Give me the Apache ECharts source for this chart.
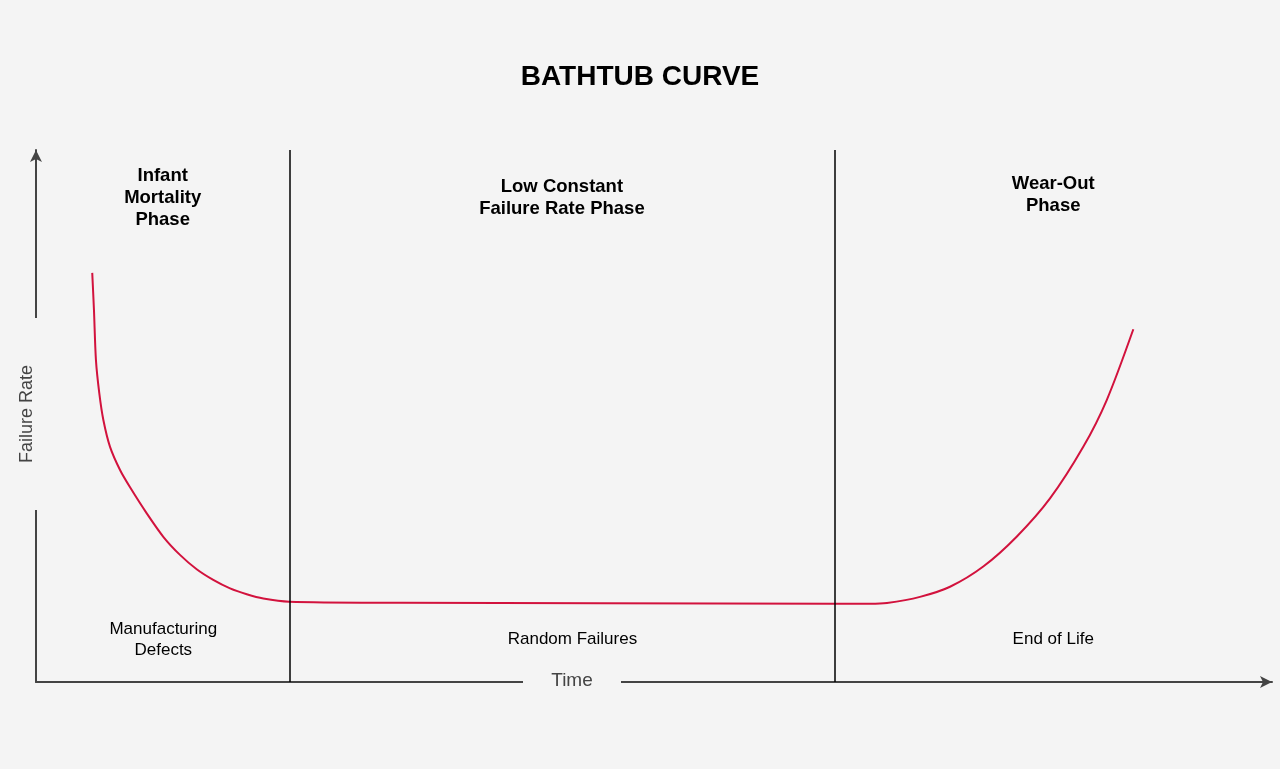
<!DOCTYPE html>
<html>
<head>
<meta charset="utf-8">
<script src="https://cdn.jsdelivr.net/npm/echarts@6/dist/echarts.min.js"></script>
<style>
  html, body { margin: 0; padding: 0; background: #f4f4f4; }
  #chart { width: 1280px; height: 769px; }
</style>
</head>
<body>
<div id="chart"></div>
<script>
// curve: time (0-100) vs failure rate (0-100)
const curveTime = [4.55, 4.69, 4.85, 5.12, 5.45, 5.99, 6.80, 7.61, 8.96, 10.30, 11.65, 13.00, 14.34, 15.70, 17.05, 18.39, 20.49,
  29.45, 45.63, 64.64, 67.48, 68.85, 71.52, 73.95, 76.64, 79.34, 82.04, 84.73, 86.63, 88.78];
const curveRate = [76.9, 69.9, 60.5, 54.3, 49.25, 44.2, 39.85, 36.6, 31.7, 27.3, 23.9, 21.2, 19.2, 17.6, 16.5, 15.7, 15.1,
  14.9, 14.8, 14.7, 14.7, 14.85, 16.0, 17.9, 21.7, 27.3, 34.5, 44.2, 53.0, 66.3];

// phase boundaries on the time axis
const phaseEdges = [0, 20.5, 64.6, 100];
const phaseTitles = ['Infant\nMortality\nPhase', 'Low Constant\nFailure Rate Phase', 'Wear-Out\nPhase'];
const phaseNotes = ['Manufacturing\nDefects', 'Random Failures', 'End of Life'];
const titleRate = [90.95, 90.95, 91.5];
const noteTime = [10.3, 43.4, 82.3];
const noteRate = [8.0, 8.0, 8.0];

const chart = echarts.init(document.getElementById('chart'));

const mids = phaseTitles.map((t, i) => (phaseEdges[i] + phaseEdges[i + 1]) / 2);

chart.setOption({
  backgroundColor: '#f4f4f4',
  animation: false,
  title: {
    text: 'BATHTUB CURVE',
    left: 'center',
    top: 58,
    textStyle: { fontFamily: 'Liberation Sans, Arial', fontSize: 28, fontWeight: 'bold', color: '#000' }
  },
  grid: { left: 36, right: 8, top: 150, bottom: 87 },
  xAxis: {
    type: 'value', min: 0, max: 100,
    axisLine: { lineStyle: { color: '#444', width: 2 }, symbol: ['none', 'arrow'], symbolSize: [9, 12] },
    axisTick: { show: false }, axisLabel: { show: false }, splitLine: { show: false }
  },
  yAxis: {
    type: 'value', min: 0, max: 100,
    axisLine: { show: true, lineStyle: { color: '#444', width: 2 }, symbol: ['none', 'arrow'], symbolSize: [9, 12] },
    axisTick: { show: false }, axisLabel: { show: false }, splitLine: { show: false }
  },
  series: [
    {
      type: 'line',
      data: curveTime.map((t, i) => [t, curveRate[i]]),
      smooth: 0.3,
      showSymbol: false,
      lineStyle: { color: '#d2123d', width: 2 },
      markLine: {
        silent: true,
        symbol: 'none',
        label: { show: false },
        lineStyle: { color: '#000', width: 1.5, type: 'solid' },
        data: phaseEdges.slice(1, 3).map(x => ({ xAxis: x }))
      },
      z: 3
    },
    {
      type: 'scatter',
      symbolSize: 0,
      itemStyle: { opacity: 1 },
      data: mids.map((m, i) => ({ value: [m, titleRate[i]], label: { formatter: phaseTitles[i] } })),
      label: {
        show: true, position: 'top', distance: 0, align: 'center', verticalAlign: 'middle', opacity: 1,
        fontFamily: 'Liberation Sans, Arial', fontSize: 18.5, fontWeight: 'bold', lineHeight: 22, color: '#000'
      }
    },
    {
      type: 'scatter',
      symbolSize: 0,
      itemStyle: { opacity: 1 },
      data: noteTime.map((m, i) => ({ value: [m, noteRate[i]], label: { formatter: phaseNotes[i] } })),
      label: {
        show: true, position: 'top', distance: 0, align: 'center', verticalAlign: 'middle', opacity: 1,
        fontFamily: 'Liberation Sans, Arial', fontSize: 17, lineHeight: 21, color: '#000'
      }
    }
  ],
  graphic: [
    { type: 'rect', z: 100, shape: { x: 523, y: 675, width: 98, height: 14 }, style: { fill: '#f4f4f4' } },
    { type: 'text', z: 101, x: 572, y: 681,
      style: { text: 'Time', fontFamily: 'Liberation Sans, Arial', fontSize: 19, fill: '#444', align: 'center', verticalAlign: 'middle' } },
    { type: 'rect', z: 100, shape: { x: 29, y: 318, width: 14, height: 192 }, style: { fill: '#f4f4f4' } },
    { type: 'text', z: 101, x: 27, y: 414, rotation: Math.PI / 2,
      style: { text: 'Failure Rate', fontFamily: 'Liberation Sans, Arial', fontSize: 18, fill: '#444', align: 'center', verticalAlign: 'middle' } }
  ]
});
</script>
</body>
</html>
